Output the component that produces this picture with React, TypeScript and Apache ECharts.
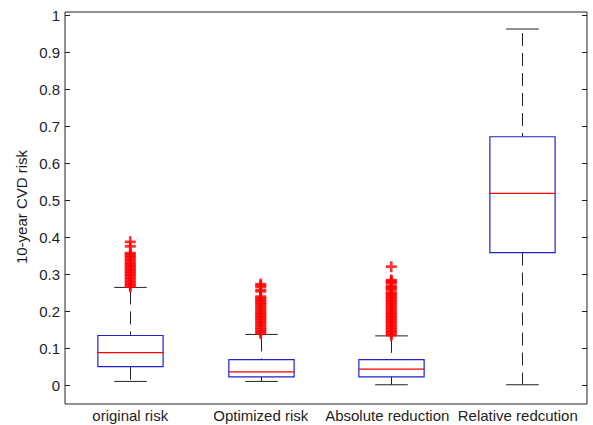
import React, { useEffect, useRef } from "react";
import * as echarts from "echarts";

const categories = ["original risk", "Optimized risk", "Absolute reduction", "Relative redcution"];
const whiskerLow = [0.011, 0.011, 0.002, 0.002];
const quartile1 = [0.051, 0.0235, 0.0235, 0.359];
const medians = [0.089, 0.037, 0.044, 0.519];
const quartile3 = [0.135, 0.07, 0.07, 0.672];
const whiskerHigh = [0.265, 0.138, 0.134, 0.963];

const outliersOriginal = [
  0.267, 0.271, 0.275, 0.279, 0.283, 0.287, 0.291, 0.295, 0.299, 0.303, 0.307, 0.311, 0.315,
  0.319, 0.323, 0.327, 0.331, 0.335, 0.339, 0.343, 0.347, 0.351, 0.355, 0.358, 0.376, 0.388,
];
const outliersOptimized = [
  0.14, 0.144, 0.148, 0.152, 0.156, 0.16, 0.164, 0.168, 0.172, 0.176, 0.18, 0.184, 0.188,
  0.192, 0.196, 0.2, 0.204, 0.208, 0.212, 0.216, 0.22, 0.224, 0.228, 0.232, 0.236, 0.24,
  0.254, 0.258, 0.266, 0.27, 0.274,
];
const outliersAbsolute = [
  0.136, 0.14, 0.144, 0.148, 0.152, 0.156, 0.16, 0.164, 0.168, 0.172, 0.176, 0.18, 0.184,
  0.188, 0.192, 0.196, 0.2, 0.204, 0.208, 0.212, 0.216, 0.22, 0.224, 0.228, 0.232, 0.236,
  0.24, 0.244, 0.248, 0.251, 0.258, 0.262, 0.265, 0.268, 0.276, 0.279, 0.282, 0.285, 0.321,
];
const outlierGroups = [outliersOriginal, outliersOptimized, outliersAbsolute];

const yTicks = [0, 0.1, 0.2, 0.3, 0.4, 0.5, 0.6, 0.7, 0.8, 0.9, 1];
const yLabel = "10-year CVD risk";

const FONT = "'Liberation Sans', Arial, sans-serif";
const FS = 15;
const TEXT = "#1e1e1e";
const BLUE = "#2020d0";
const RED = "#ff0000";
const WHISKER = "#222222";
const PLUS = "path://M3.8,0H6.2V3.8H10V6.2H6.2V10H3.8V6.2H0V3.8H3.8Z";

export default function App() {
  const ref = useRef<HTMLDivElement>(null);
  useEffect(() => {
    document.body.style.margin = "0";
    if (!ref.current) return;
    const chart = echarts.init(ref.current, null, { renderer: "svg" });

    const boxData = categories.map((_, i) => [
      i,
      whiskerLow[i],
      quartile1[i],
      medians[i],
      quartile3[i],
      whiskerHigh[i],
    ]);

    const yAxisBase = {
      type: "value",
      min: -0.05,
      max: 1.009,
      splitLine: { show: false },
      axisLine: { show: false },
      axisTick: {
        show: true,
        inside: true,
        length: 5,
        customValues: yTicks,
        lineStyle: { color: TEXT, width: 1 },
      },
    };

    const option: any = {
      animation: false,
      backgroundColor: "#ffffff",
      grid: {
        left: 65,
        right: 6,
        top: 12,
        bottom: 21,
        containLabel: false,
        show: true,
        borderColor: "#222",
        borderWidth: 1,
        backgroundColor: "transparent",
      },
      xAxis: {
        type: "category",
        data: categories,
        axisLine: { show: false },
        axisTick: { show: false },
        splitLine: { show: false },
        axisLabel: {
          margin: 4,
          fontSize: FS,
          fontFamily: FONT,
          color: TEXT,
          interval: 0,
          formatter: (v: string, i: number) => (i >= 2 ? `{s|${v}}` : v),
          rich: {
            s: { fontSize: FS, fontFamily: FONT, color: TEXT, padding: [0, 8, 0, 0] },
          },
        },
      },
      yAxis: [
        {
          ...yAxisBase,
          position: "left",
          axisLabel: {
            show: true,
            margin: 5,
            fontSize: FS,
            fontFamily: FONT,
            color: TEXT,
            customValues: yTicks,
            formatter: (v: number) => String(Number(v.toFixed(1))),
          },
        },
        {
          ...yAxisBase,
          position: "right",
          axisLabel: { show: false },
        },
      ],
      graphic: [
        {
          type: "text",
          x: 21,
          y: 207,
          rotation: Math.PI / 2,
          style: {
            text: yLabel,
            fontSize: FS,
            fontFamily: FONT,
            fill: TEXT,
            align: "center",
            verticalAlign: "middle",
          },
        },
      ],
      series: [
        {
          type: "custom",
          data: boxData,
          encode: { x: 0, y: [1, 2, 3, 4, 5] },
          z: 2,
          renderItem: (params: any, api: any) => {
            const x = api.value(0);
            const pMin = api.coord([x, api.value(1)]);
            const pQ1 = api.coord([x, api.value(2)]);
            const pMed = api.coord([x, api.value(3)]);
            const pQ3 = api.coord([x, api.value(4)]);
            const pMax = api.coord([x, api.value(5)]);
            const band = api.size([1, 0])[0];
            const hw = band * 0.25;
            const cw = band * 0.125;
            const cx = Math.round(pMed[0]) + 0.5;
            const dash = { stroke: WHISKER, lineWidth: 1, lineDash: [13, 7] };
            const solid = { stroke: WHISKER, lineWidth: 1 };
            return {
              type: "group",
              children: [
                { type: "line", shape: { x1: cx, y1: pMax[1] + 4, x2: cx, y2: pQ3[1] }, style: dash },
                { type: "line", shape: { x1: cx, y1: pQ1[1], x2: cx, y2: pMin[1] }, style: dash },
                { type: "line", shape: { x1: cx - cw, y1: pMax[1], x2: cx + cw, y2: pMax[1] }, style: solid },
                { type: "line", shape: { x1: cx - cw, y1: pMin[1], x2: cx + cw, y2: pMin[1] }, style: solid },
                {
                  type: "rect",
                  shape: { x: cx - hw, y: pQ3[1], width: hw * 2, height: pQ1[1] - pQ3[1] },
                  style: { fill: "none", stroke: BLUE, lineWidth: 1.2 },
                },
                {
                  type: "line",
                  shape: { x1: cx - hw, y1: pMed[1], x2: cx + hw, y2: pMed[1] },
                  style: { stroke: RED, lineWidth: 1.2 },
                },
              ],
            };
          },
        },
        ...outlierGroups.map((vals, gi) => ({
          type: "scatter",
          data: vals.map((v) => [gi, v]),
          symbol: PLUS,
          symbolSize: 11,
          itemStyle: { color: RED },
          z: 3,
          silent: true,
        })),
      ],
    };

    chart.setOption(option);
    return () => chart.dispose();
  }, []);

  return <div ref={ref} style={{ width: 593, height: 425 }} />;
}
